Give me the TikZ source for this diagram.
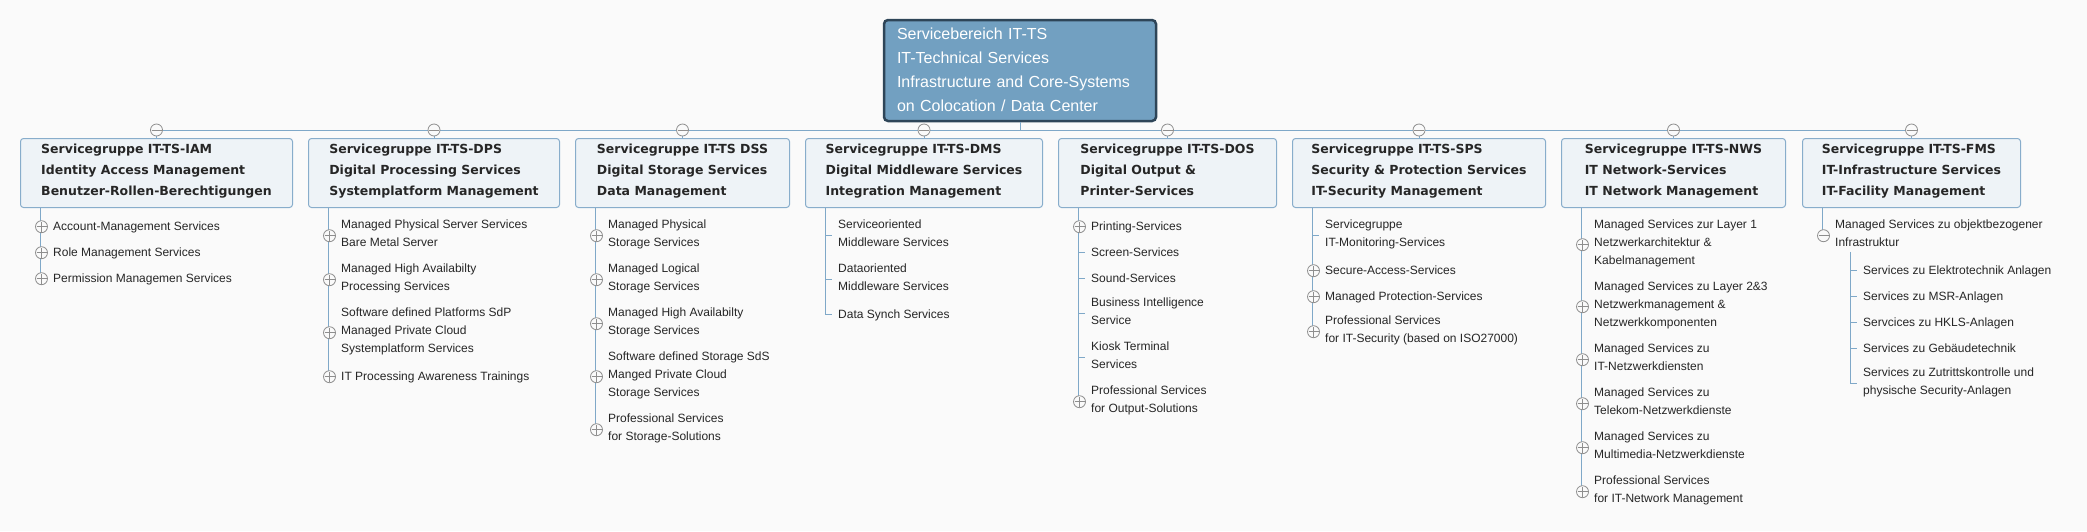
\documentclass[tikz,border=0pt]{standalone}
\usepackage{fontspec}
\setmainfont{Liberation Sans}
\newfontfamily\titlefont{DejaVu Sans}
\usetikzlibrary{positioning}
\definecolor{canvas}{HTML}{FAFAFA}
\definecolor{rootfill}{HTML}{72A0C1}
\definecolor{rootline}{HTML}{2E4558}
\definecolor{groupfill}{HTML}{EEF3F7}
\definecolor{groupline}{HTML}{88ADCB}
\definecolor{treeblue}{HTML}{7FA8C8}
\definecolor{knobgray}{HTML}{8E8E8E}
\definecolor{inkdark}{HTML}{262626}
\exhyphenpenalty=10000
\hyphenpenalty=10000

\tikzset{
  rootbox/.style={draw=rootline, line width=2.5pt, fill=rootfill, rounded corners=4pt,
    text=white, align=left, inner xsep=13pt, inner ysep=2pt, text width=246pt,
    minimum height=101pt, font=\fontsize{16}{24}\selectfont,
    execute at begin node=\strut, execute at end node=\strut},
  groupbox/.style={draw=groupline, line width=1pt, fill=groupfill, rounded corners=3pt,
    text=inkdark, align=left, inner sep=0pt, minimum height=69pt, anchor=north west,
    font=\titlefont\bfseries\fontsize{12.5}{21}\selectfont,
    execute at begin node=\rule[-6.3pt]{0pt}{17.7pt}, execute at end node=\strut},
  leaf/.style={anchor=west, align=left, inner sep=0pt, text=inkdark,
    font=\fontsize{12}{18}\selectfont,
    execute at begin node=\strut, execute at end node=\strut},
  tree/.style={draw=treeblue, line width=1pt},
  expand/.style={circle, draw=knobgray, fill=canvas, line width=0.8pt, minimum size=12pt, inner sep=0pt,
    path picture={\draw[knobgray, line width=0.8pt]
      ([xshift=-5pt]path picture bounding box.center) -- ([xshift=5pt]path picture bounding box.center)
      ([yshift=-5pt]path picture bounding box.center) -- ([yshift=5pt]path picture bounding box.center);}},
  collapse/.style={circle, draw=knobgray, fill=canvas, line width=0.8pt, minimum size=12pt, inner sep=0pt,
    path picture={\draw[knobgray, line width=0.8pt]
      ([xshift=-5pt]path picture bounding box.center) -- ([xshift=5pt]path picture bounding box.center);}}
}

\begin{document}
\begin{tikzpicture}[x=1pt, y=-1pt]
  \fill[canvas] (0,0) rectangle (2087,531);
  \useasboundingbox (0,0) rectangle (2087,531);

  % top of the tree
  \node[rootbox] (root) at (1020,70.5) {Servicebereich IT-TS\\IT-Technical Services\\Infrastructure and Core-Systems\\on Colocation / Data Center};
  \coordinate (bus) at (0,130);

  % service groups
  \node[groupbox, minimum width=272pt] (iam) at (20,138) {Servicegruppe IT-TS-IAM\\Identity Access Management\\Benutzer-Rollen-Berechtigungen};
  \node[groupbox, minimum width=251pt] (dps) at (308,138) {Servicegruppe IT-TS-DPS\\Digital Processing Services\\Systemplatform Management};
  \node[groupbox, minimum width=214pt] (dss) at (575,138) {Servicegruppe IT-TS DSS\\Digital Storage Services\\Data Management};
  \node[groupbox, minimum width=237pt] (dms) at (805,138) {Servicegruppe IT-TS-DMS\\Digital Middleware Services\\Integration Management};
  \node[groupbox, minimum width=218pt] (dos) at (1058,138) {Servicegruppe IT-TS-DOS\\Digital Output \&\\Printer-Services};
  \node[groupbox, minimum width=253pt] (sps) at (1292,138) {Servicegruppe IT-TS-SPS\\Security \& Protection Services\\IT-Security Management};
  \node[groupbox, minimum width=224pt] (nws) at (1561,138) {Servicegruppe IT-TS-NWS\\IT Network-Services\\IT Network Management};
  \node[groupbox, minimum width=218pt] (fms) at (1802,138) {Servicegruppe IT-TS-FMS\\IT-Infrastructure Services\\IT-Facility Management};

  % services per group
  \node[leaf] (iam1) at (53,226.7) {Account-Management Services};
  \node[leaf] (iam2) at (53,252.7) {Role Management Services};
  \node[leaf] (iam3) at (53,278.7) {Permission Managemen Services};

  \node[leaf] (dps1) at (341,235.7) {Managed Physical Server Services\\Bare Metal Server};
  \node[leaf] (dps2) at (341,279.7) {Managed High Availabilty\\Processing Services};
  \node[leaf] (dps3) at (341,332.7) {Software defined Platforms SdP\\Managed Private Cloud\\Systemplatform Services};
  \node[leaf] (dps4) at (341,376.7) {IT Processing Awareness Trainings};

  \node[leaf] (dss1) at (608,235.7) {Managed Physical\\Storage Services};
  \node[leaf] (dss2) at (608,279.7) {Managed Logical\\Storage Services};
  \node[leaf] (dss3) at (608,323.7) {Managed High Availabilty\\Storage Services};
  \node[leaf] (dss4) at (608,376.7) {Software defined Storage SdS\\Manged Private Cloud\\Storage Services};
  \node[leaf] (dss5) at (608,429.7) {Professional Services\\for Storage-Solutions};

  \node[leaf] (dms1) at (838,235.7) {Serviceoriented\\Middleware Services};
  \node[leaf] (dms2) at (838,279.7) {Dataoriented\\Middleware Services};
  \node[leaf] (dms3) at (838,314.7) {Data Synch Services};

  \node[leaf] (dos1) at (1091,226.7) {Printing-Services};
  \node[leaf] (dos2) at (1091,252.7) {Screen-Services};
  \node[leaf] (dos3) at (1091,278.7) {Sound-Services};
  \node[leaf] (dos4) at (1091,313.7) {Business Intelligence\\Service};
  \node[leaf] (dos5) at (1091,357.7) {Kiosk Terminal\\Services};
  \node[leaf] (dos6) at (1091,401.7) {Professional Services\\for Output-Solutions};

  \node[leaf] (sps1) at (1325,235.7) {Servicegruppe\\IT-Monitoring-Services};
  \node[leaf] (sps2) at (1325,270.7) {Secure-Access-Services};
  \node[leaf] (sps3) at (1325,296.7) {Managed Protection-Services};
  \node[leaf] (sps4) at (1325,331.7) {Professional Services\\for IT-Security (based on ISO27000)};

  \node[leaf] (nws1) at (1594,244.7) {Managed Services zur Layer 1\\Netzwerkarchitektur \&\\Kabelmanagement};
  \node[leaf] (nws2) at (1594,306.7) {Managed Services zu Layer 2\&3\\Netzwerkmanagement \&\\Netzwerkkomponenten};
  \node[leaf] (nws3) at (1594,359.7) {Managed Services zu\\IT-Netzwerkdiensten};
  \node[leaf] (nws4) at (1594,403.7) {Managed Services zu\\Telekom-Netzwerkdienste};
  \node[leaf] (nws5) at (1594,447.7) {Managed Services zu\\Multimedia-Netzwerkdienste};
  \node[leaf] (nws6) at (1594,491.7) {Professional Services\\for IT-Network Management};

  \node[leaf] (fms1) at (1835,235.7) {Managed Services zu objektbezogener\\Infrastruktur};
  \node[leaf] (fms11) at (1863,270.7) {Services zu Elektrotechnik Anlagen};
  \node[leaf] (fms12) at (1863,296.7) {Services zu MSR-Anlagen};
  \node[leaf] (fms13) at (1863,322.7) {Servcices zu HKLS-Anlagen};
  \node[leaf] (fms14) at (1863,348.7) {Services zu Gebäudetechnik};
  \node[leaf] (fms15) at (1863,383.7) {Services zu Zutrittskontrolle und\\physische Security-Anlagen};

  % connectors
  \draw[tree] (root.south) -- (root.south |- bus);
  \draw[tree] (iam.north |- bus) -- (fms.north |- bus);
  \draw[tree] (iam.north |- bus) -- (iam.north);
  \draw[tree] (dps.north |- bus) -- (dps.north);
  \draw[tree] (dss.north |- bus) -- (dss.north);
  \draw[tree] (dms.north |- bus) -- (dms.north);
  \draw[tree] (dos.north |- bus) -- (dos.north);
  \draw[tree] (sps.north |- bus) -- (sps.north);
  \draw[tree] (nws.north |- bus) -- (nws.north);
  \draw[tree] (fms.north |- bus) -- (fms.north);

  \draw[tree] ([xshift=20pt]iam.south west) |- ([xshift=-13pt]iam3.west);
  \draw[tree] ([xshift=20pt]dps.south west) |- ([xshift=-13pt]dps4.west);
  \draw[tree] ([xshift=20pt]dss.south west) |- ([xshift=-13pt]dss5.west);
  \draw[tree] ([xshift=20pt]dms.south west) |- ([xshift=-6pt]dms3.west);
  \draw[tree] ([xshift=20pt]dos.south west) |- ([xshift=-13pt]dos6.west);
  \draw[tree] ([xshift=20pt]sps.south west) |- ([xshift=-13pt]sps4.west);
  \draw[tree] ([xshift=20pt]nws.south west) |- ([xshift=-13pt]nws6.west);
  \draw[tree] ([xshift=20pt]fms.south west) |- ([xshift=-13pt]fms1.west);
  \draw[tree] ([xshift=15pt]fms1.south west) |- ([xshift=-6pt]fms15.west);

  \draw[tree] ([xshift=-13pt]dms1.west) -- ([xshift=-6pt]dms1.west);
  \draw[tree] ([xshift=-13pt]dms2.west) -- ([xshift=-6pt]dms2.west);
  \draw[tree] ([xshift=-13pt]dos2.west) -- ([xshift=-6pt]dos2.west);
  \draw[tree] ([xshift=-13pt]dos3.west) -- ([xshift=-6pt]dos3.west);
  \draw[tree] ([xshift=-13pt]dos4.west) -- ([xshift=-6pt]dos4.west);
  \draw[tree] ([xshift=-13pt]dos5.west) -- ([xshift=-6pt]dos5.west);
  \draw[tree] ([xshift=-13pt]sps1.west) -- ([xshift=-6pt]sps1.west);
  \draw[tree] ([xshift=-13pt]fms11.west) -- ([xshift=-6pt]fms11.west);
  \draw[tree] ([xshift=-13pt]fms12.west) -- ([xshift=-6pt]fms12.west);
  \draw[tree] ([xshift=-13pt]fms13.west) -- ([xshift=-6pt]fms13.west);
  \draw[tree] ([xshift=-13pt]fms14.west) -- ([xshift=-6pt]fms14.west);

  % fold knobs
  \node[collapse] (iamk) at (iam.north |- bus) {};
  \node[collapse] (dpsk) at (dps.north |- bus) {};
  \node[collapse] (dssk) at (dss.north |- bus) {};
  \node[collapse] (dmsk) at (dms.north |- bus) {};
  \node[collapse] (dosk) at (dos.north |- bus) {};
  \node[collapse] (spsk) at (sps.north |- bus) {};
  \node[collapse] (nwsk) at (nws.north |- bus) {};
  \node[collapse] (fmsk) at (fms.north |- bus) {};
  \node[collapse] (fms1k) at ([xshift=-11.5pt]fms1.west) {};

  \node[expand] (iam1k) at ([xshift=-11.5pt]iam1.west) {};
  \node[expand] (iam2k) at ([xshift=-11.5pt]iam2.west) {};
  \node[expand] (iam3k) at ([xshift=-11.5pt]iam3.west) {};
  \node[expand] (dps1k) at ([xshift=-11.5pt]dps1.west) {};
  \node[expand] (dps2k) at ([xshift=-11.5pt]dps2.west) {};
  \node[expand] (dps3k) at ([xshift=-11.5pt]dps3.west) {};
  \node[expand] (dps4k) at ([xshift=-11.5pt]dps4.west) {};
  \node[expand] (dss1k) at ([xshift=-11.5pt]dss1.west) {};
  \node[expand] (dss2k) at ([xshift=-11.5pt]dss2.west) {};
  \node[expand] (dss3k) at ([xshift=-11.5pt]dss3.west) {};
  \node[expand] (dss4k) at ([xshift=-11.5pt]dss4.west) {};
  \node[expand] (dss5k) at ([xshift=-11.5pt]dss5.west) {};
  \node[expand] (dos1k) at ([xshift=-11.5pt]dos1.west) {};
  \node[expand] (dos6k) at ([xshift=-11.5pt]dos6.west) {};
  \node[expand] (sps2k) at ([xshift=-11.5pt]sps2.west) {};
  \node[expand] (sps3k) at ([xshift=-11.5pt]sps3.west) {};
  \node[expand] (sps4k) at ([xshift=-11.5pt]sps4.west) {};
  \node[expand] (nws1k) at ([xshift=-11.5pt]nws1.west) {};
  \node[expand] (nws2k) at ([xshift=-11.5pt]nws2.west) {};
  \node[expand] (nws3k) at ([xshift=-11.5pt]nws3.west) {};
  \node[expand] (nws4k) at ([xshift=-11.5pt]nws4.west) {};
  \node[expand] (nws5k) at ([xshift=-11.5pt]nws5.west) {};
  \node[expand] (nws6k) at ([xshift=-11.5pt]nws6.west) {};
\end{tikzpicture}
\end{document}
